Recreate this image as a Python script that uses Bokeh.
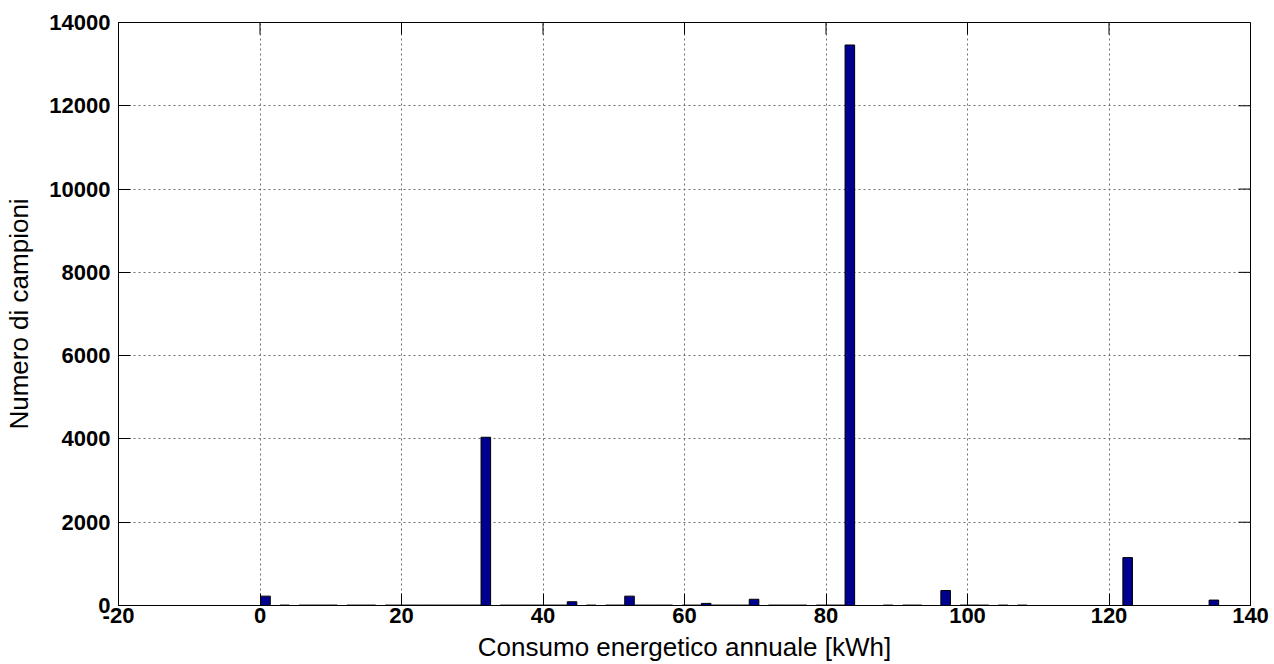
import math
from bokeh.plotting import figure
from bokeh.models import Range1d, FixedTicker, ColumnDataSource
from bokeh.embed import file_html
from bokeh.resources import INLINE

# Histogram data (100 bins between data min and max)
data_min = 0.1
data_max = 135.5
n_bins = 100
counts = [
    225, 0, 10, 0, 10, 10, 10, 10, 0, 10,
    10, 10, 0, 10, 10, 10, 10, 10, 10, 10,
    10, 10, 10, 4040, 0, 10, 10, 10, 10, 10,
    10, 10, 90, 0, 10, 0, 10, 10, 225, 10,
    10, 10, 10, 0, 10, 10, 50, 10, 10, 10,
    10, 150, 0, 10, 10, 10, 10, 0, 10, 10,
    10, 13460, 0, 0, 0, 10, 0, 10, 10, 0,
    0, 360, 0, 10, 10, 10, 0, 10, 0, 10,
    0, 0, 0, 0, 0, 0, 0, 0, 0, 0,
    1150, 0, 0, 0, 0, 0, 0, 0, 0, 130,
]
x_ticks = [-20, 0, 20, 40, 60, 80, 100, 120, 140]
y_ticks = [0, 2000, 4000, 6000, 8000, 10000, 12000, 14000]
x_label = "Consumo energetico annuale [kWh]"
y_label = "Numero di campioni"

x_min, x_max = x_ticks[0], x_ticks[-1]
y_min, y_max = y_ticks[0], y_ticks[-1]

step = (data_max - data_min) / n_bins
centers = [data_min + (i + 0.5) * step for i in range(n_bins)]
xs = [c for c, v in zip(centers, counts) if v > 0]
tops = [v for v in counts if v > 0]
src = ColumnDataSource(dict(x=xs, top=tops))

p = figure(width=1270, height=664,
           x_range=Range1d(x_min, x_max), y_range=Range1d(y_min, y_max),
           output_backend="svg", toolbar_location=None,
           min_border_left=118, min_border_right=20,
           min_border_top=22, min_border_bottom=59)
p.background_fill_color = "white"
p.border_fill_color = "white"
p.outline_line_color = "black"
p.outline_line_width = 1

p.vbar(x="x", top="top", bottom=0, width=step, source=src,
       fill_color="#00008F", line_color="black", line_width=1)

font = "Liberation Sans"
for ax in [p.xaxis[0], p.yaxis[0]]:
    ax.major_label_text_font = font
    ax.major_label_text_font_style = "bold"
    ax.major_label_text_font_size = "22px"
    ax.major_label_text_color = "black"
    ax.axis_label_text_font = font
    ax.axis_label_text_font_style = "normal"
    ax.axis_label_text_font_size = "26px"
    ax.axis_label_text_color = "black"
    ax.major_tick_in = 12
    ax.major_tick_out = 0
    ax.minor_tick_in = 0
    ax.minor_tick_out = 0
    ax.major_tick_line_color = "black"
    ax.axis_line_color = "black"

p.xaxis[0].ticker = FixedTicker(ticks=x_ticks)
p.yaxis[0].ticker = FixedTicker(ticks=y_ticks)
p.xaxis[0].major_label_overrides = {t: str(t) for t in x_ticks}
p.yaxis[0].major_label_overrides = {t: str(t) for t in y_ticks}
p.xaxis[0].axis_label = x_label
p.yaxis[0].axis_label = y_label
p.xaxis[0].major_label_standoff = 2
p.yaxis[0].major_label_standoff = 8
p.xaxis[0].axis_label_standoff = 6
p.yaxis[0].axis_label_standoff = 12

p.xgrid.ticker = FixedTicker(ticks=x_ticks)
p.ygrid.ticker = FixedTicker(ticks=y_ticks)
for g in [p.xgrid[0], p.ygrid[0]]:
    g.grid_line_color = "#707070"
    g.grid_line_dash = "2 3"
    g.grid_line_width = 1

# Box ticks on top and right (inward, fixed screen length)
p.ray(x=x_ticks, y=[y_max] * len(x_ticks), length=12, length_units="screen",
      angle=-math.pi / 2, line_color="black", line_width=1)
p.ray(x=[x_max] * len(y_ticks), y=y_ticks, length=12, length_units="screen",
      angle=math.pi, line_color="black", line_width=1)

open("out.html", "w").write(file_html(p, INLINE))
